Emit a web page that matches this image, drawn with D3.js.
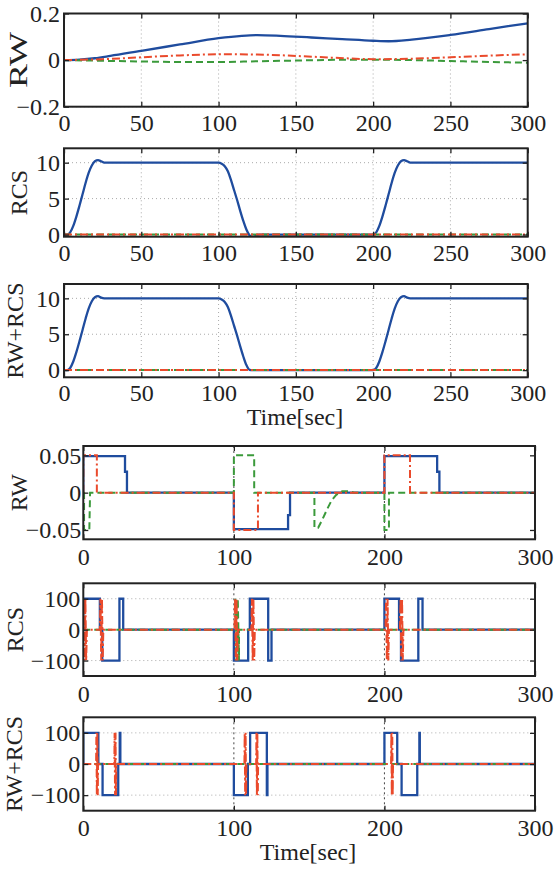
<!DOCTYPE html>
<html>
<head>
<meta charset="utf-8">
<script src="https://cdn.jsdelivr.net/npm/d3@7"></script>
<style>
  body { margin: 0; background: #fff; }
</style>
</head>
<body>
<svg id="chart" width="559" height="871"></svg>
<script>
// ---- data ----
var upperTicksX = [0, 50, 100, 150, 200, 250, 300];
var lowerTicksX = [0, 100, 200, 300];

// top figure, panel RW
var rwBlue = [[0,0],[10,0.002],[20,0.008],[30,0.018],[50,0.04],[75,0.067],[100,0.094],[115,0.104],[125,0.107],[140,0.104],[160,0.097],[180,0.09],[200,0.083],[210,0.081],[225,0.088],[250,0.108],[275,0.133],[300,0.158]];
var rwRed = [[0,0],[25,0.004],[50,0.012],[75,0.02],[100,0.025],[125,0.024],[150,0.018],[175,0.01],[200,0.004],[225,0.006],[250,0.012],[275,0.019],[300,0.025]];
var rwGreen = [[0,0],[25,-0.003],[50,-0.006],[75,-0.008],[100,-0.008],[125,-0.005],[150,-0.002],[175,0.001],[200,0.002],[225,0],[250,-0.004],[275,-0.008],[300,-0.011]];

// top figure, panel RCS
var rcsBlue = [[0,0],[2,0],[4,0.3],[6,1.2],[8,2.5],[10,4.0],[12,5.6],[14,7.2],[16,8.6],[18,9.6],[20,10.2],[22,10.35],[24,10.2],[26,10.02],[30,10],[100,10],[102,9.85],[104,9.5],[106,8.8],[108,7.6],[110,6.2],[112,4.8],[114,3.3],[116,1.9],[118,0.7],[120,-0.1],[122,-0.35],[124,-0.2],[126,-0.02],[130,0],[200,0],[202,0.3],[204,1.2],[206,2.5],[208,4.0],[210,5.6],[212,7.2],[214,8.6],[216,9.6],[218,10.2],[220,10.35],[222,10.2],[224,10.02],[228,10],[300,10]];
var rcsRed = [[0,0],[300,0]];
var rcsGreen = [[0,0],[300,0]];

// top figure, panel RW+RCS
var bothBlue = [[0,0],[2,0],[4,0.3],[6,1.2],[8,2.5],[10,4.0],[12,5.6],[14,7.2],[16,8.6],[18,9.6],[20,10.15],[22,10.3],[24,10.1],[26,10.0],[30,10],[100,10],[102,9.85],[104,9.5],[106,8.8],[108,7.6],[110,6.2],[112,4.8],[114,3.3],[116,1.9],[118,0.7],[120,0.05],[122,0],[200,0],[202,0.3],[204,1.2],[206,2.5],[208,4.0],[210,5.6],[212,7.2],[214,8.6],[216,9.6],[218,10.15],[220,10.3],[222,10.1],[224,10.0],[228,10],[300,10]];
var bothRed = [[0,0],[300,0]];
var bothGreen = [[0,0],[300,0]];

// bottom figure, panel RW
var rw2Blue = [[0,0],[0,0.049],[27.7,0.049],[27.7,0.028],[29,0.028],[29,0],[100,0],[100,-0.049],[136,-0.049],[136,-0.03],[137.3,-0.03],[137.3,0],[200,0],[200,0.049],[235,0.049],[235,0.028],[236.5,0.028],[236.5,0],[300,0]];
var rw2Red = [[0,0],[0,0.05],[9,0.05],[9,0],[100,0],[100,-0.05],[116,-0.05],[116,0],[200,0],[200,0.05],[217,0.05],[217,0],[300,0]];
var rw2Green = [[0,0],[0.5,0],[0.5,-0.05],[4,-0.05],[4.5,0],[100,0],[100,0.05],[113.5,0.05],[113.5,0],[153.5,0],[153.5,-0.047],[156,-0.047],[159,-0.035],[162,-0.022],[165,-0.01],[168,-0.003],[172,0.002],[176,0.002],[180,0],[200,0],[200,-0.05],[203,-0.05],[203,0],[300,0]];

// bottom figure, panel RCS
var rcs2Blue = [[0,0],[0,100],[11,100],[11,0],[12.6,0],[12.6,-100],[24,-100],[24,100],[26.5,100],[26.5,0],[100,0],[100,-100],[109.5,-100],[109.5,0],[110.6,0],[110.6,100],[122.8,100],[122.8,-100],[125,-100],[125,0],[200,0],[200,100],[209.7,100],[209.7,0],[211,0],[211,-100],[222.5,-100],[222.5,100],[225.3,100],[225.3,0],[300,0]];
var rcs2Red = [[0,0],[0.4,100],[0.9,-100],[1.4,100],[1.9,-100],[2.4,0],[11,0],[11.4,100],[11.9,-100],[12.4,100],[12.9,-100],[13.3,0],[100.4,0],[100.8,100],[101.3,-100],[101.8,100],[102.3,-100],[102.7,0],[111.6,0],[112,100],[112.5,-100],[113,100],[113.5,-100],[113.9,0],[200.7,0],[201.1,100],[201.6,-100],[202.1,100],[202.6,-100],[203,0],[210.3,0],[210.7,100],[211.2,-100],[211.7,100],[212.2,-100],[212.6,0],[300,0]];
var rcs2Green = [[0,0],[101,0],[101,100],[101.8,-100],[102.6,100],[103.4,-100],[103.4,0],[300,0]];

// bottom figure, panel RW+RCS
var both2Blue = [[0,0],[0,100],[10,100],[10,0],[12.8,0],[12.8,-100],[23.2,-100],[23.2,0],[24.2,0],[24.2,100],[24.6,100],[24.6,0],[100,0],[100,-100],[109.3,-100],[109.3,0],[110.8,0],[110.8,100],[121.9,100],[121.9,-100],[122.3,-100],[122.3,0],[200,0],[200,100],[208.5,100],[208.5,0],[211.4,0],[211.4,-100],[221.8,-100],[221.8,0],[223.2,0],[223.2,100],[223.5,100],[223.5,0],[300,0]];
var both2Red = [[0,0],[8.5,0],[8.7,100],[9.0,-100],[9.3,100],[9.6,-100],[9.8,0],[20.6,0],[20.8,100],[21.1,-100],[21.4,100],[21.7,-100],[21.9,0],[107,0],[107.2,100],[107.5,-100],[107.8,100],[108.1,-100],[108.3,0],[114.8,0],[115,100],[115.3,-100],[115.6,100],[115.9,-100],[116.1,0],[204.4,0],[204.6,100],[204.9,-100],[205.2,100],[205.5,-100],[205.7,0],[300,0]];
var both2Green = [[0,0],[300,0]];

// ---- layout ----
var FONT = "'Liberation Serif', 'Times New Roman', serif";
var svg = d3.select("#chart");
var colors = { blue: "#1f4c9e", red: "#ea4a2c", green: "#3b9a3b" };

var panels = [
  { left: 64, right: 527.7, top: 13.5, bottom: 106.7, yDomain: [-0.2, 0.2], yTicks: [-0.2, 0, 0.2], yFmt: function (d) { return d === 0 ? "0" : d3.format(".1f")(d); },
    xTicks: upperTicksX, label: "RW", labelX: 18.5, labelLen: 56, yPad: 4, xPad: 7, ygrid: true, darkX: false, data: [rwBlue, rwGreen, rwRed] },
  { left: 64, right: 527.7, top: 148.3, bottom: 236.7, yDomain: [-0.3, 12], yTicks: [0, 5, 10], yFmt: d3.format("d"),
    xTicks: upperTicksX, label: "RCS", labelX: 19, yPad: 4, xPad: 7, ygrid: true, darkX: false, data: [rcsBlue, rcsGreen, rcsRed] },
  { left: 64, right: 527.7, top: 284, bottom: 377.3, yDomain: [-1, 12], yTicks: [0, 5, 10], yFmt: d3.format("d"),
    xTicks: upperTicksX, label: "RW+RCS", labelX: 15, yPad: 4, xPad: 7, ygrid: true, darkX: false, data: [bothBlue, bothGreen, bothRed], title: "Time[sec]", titleX: 295, titleY: 425 },
  { left: 83.3, right: 535, top: 446, bottom: 539.3, yDomain: [-0.0625, 0.0625], yTicks: [-0.05, 0, 0.05], yFmt: function (d) { return d === 0 ? "0" : d3.format(".2f")(d); },
    xTicks: lowerTicksX, label: "RW", labelX: 18.5, yPad: 2, xPad: 8.5, ygrid: false, darkX: true, data: [rw2Blue, rw2Green, rw2Red] },
  { left: 83.3, right: 535, top: 583.3, bottom: 676, yDomain: [-150, 150], yTicks: [-100, 0, 100], yFmt: d3.format("d"),
    xTicks: lowerTicksX, label: "RCS", labelX: 14.5, yPad: 3, xPad: 8.5, ygrid: true, darkX: true, data: [rcs2Blue, rcs2Green, rcs2Red] },
  { left: 83.3, right: 535, top: 717.3, bottom: 810.7, yDomain: [-150, 150], yTicks: [-100, 0, 100], yFmt: d3.format("d"),
    xTicks: lowerTicksX, label: "RW+RCS", labelX: 13.5, yPad: 3, xPad: 8.5, ygrid: true, darkX: true, data: [both2Blue, both2Green, both2Red], title: "Time[sec]", titleX: 308, titleY: 860 }
];

var styles = [
  { color: colors.blue, width: 2.3, dash: null },
  { color: colors.green, width: 2, dash: "7,4" },
  { color: colors.red, width: 2, dash: "8,3,2,3" }
];

panels.forEach(function (p, i) {
  var w = p.right - p.left, h = p.bottom - p.top;
  var x = d3.scaleLinear().domain([0, 300]).range([0, w]);
  var y = d3.scaleLinear().domain(p.yDomain).range([h, 0]);
  var g = svg.append("g").attr("transform", "translate(" + p.left + "," + p.top + ")");

  // grid
  g.append("g").selectAll("line").data(p.xTicks.slice(1, -1)).enter().append("line")
    .attr("x1", d => x(d)).attr("x2", d => x(d)).attr("y1", 0).attr("y2", h)
    .attr("stroke", p.darkX ? "#444" : "#aaa").attr("stroke-width", 1)
    .attr("stroke-dasharray", p.darkX ? "2,3" : "1,3");
  if (p.ygrid) {
    g.append("g").selectAll("line").data(p.yTicks.filter(d => d !== 0)).enter().append("line")
      .attr("x1", 0).attr("x2", w).attr("y1", d => y(d)).attr("y2", d => y(d))
      .attr("stroke", "#aaa").attr("stroke-width", 1).attr("stroke-dasharray", "1,3");
  }

  // series
  var clipId = "clip" + i;
  g.append("clipPath").attr("id", clipId).append("rect").attr("width", w).attr("height", h);
  var curve = i < 3 ? d3.curveMonotoneX : d3.curveLinear;
  var line = d3.line().x(d => x(d[0])).y(d => y(d[1])).curve(curve);
  p.data.forEach(function (s, k) {
    g.append("path").datum(s).attr("d", line).attr("clip-path", "url(#" + clipId + ")")
      .attr("fill", "none").attr("stroke", styles[k].color)
      .attr("stroke-width", styles[k].width)
      .attr("stroke-dasharray", styles[k].dash)
      .attr("stroke-linejoin", "miter");
  });

  // axes (ticks inward, labels on left and bottom only)
  g.append("g").attr("transform", "translate(0," + h + ")")
    .call(d3.axisBottom(x).tickValues(p.xTicks).tickSizeInner(-5).tickSizeOuter(0).tickPadding(p.xPad));
  g.append("g")
    .call(d3.axisLeft(y).tickValues(p.yTicks).tickFormat(p.yFmt).tickSizeInner(-5).tickSizeOuter(0).tickPadding(p.yPad));
  g.append("g").call(d3.axisTop(x).tickValues(p.xTicks).tickSizeInner(-5).tickSizeOuter(0).tickFormat(""));
  g.append("g").attr("transform", "translate(" + w + ",0)")
    .call(d3.axisRight(y).tickValues(p.yTicks).tickSizeInner(-5).tickSizeOuter(0).tickFormat(""));
  g.selectAll(".domain").remove();
  g.selectAll(".tick line").attr("stroke", "#222").attr("stroke-width", 1.3);
  g.selectAll(".tick text").style("font-family", FONT).style("font-size", "24px").attr("fill", "#222");

  g.append("rect").attr("width", w).attr("height", h)
    .attr("fill", "none").attr("stroke", "#222").attr("stroke-width", 2);

  // y label
  var lab = svg.append("text")
    .attr("transform", "translate(" + p.labelX + "," + (p.top + h / 2) + ") rotate(-90)")
    .attr("text-anchor", "middle").attr("dy", "0.35em").attr("fill", "#222")
    .style("font-family", FONT).style("font-size", "24px").text(p.label);
  if (p.labelLen) lab.attr("textLength", p.labelLen).attr("lengthAdjust", "spacingAndGlyphs").style("font-size", "25px");

  if (p.title) {
    svg.append("text").attr("x", p.titleX).attr("y", p.titleY).attr("fill", "#222")
      .attr("text-anchor", "middle").style("font-family", FONT).style("font-size", "24px").text(p.title);
  }
});
</script>
</body>
</html>
